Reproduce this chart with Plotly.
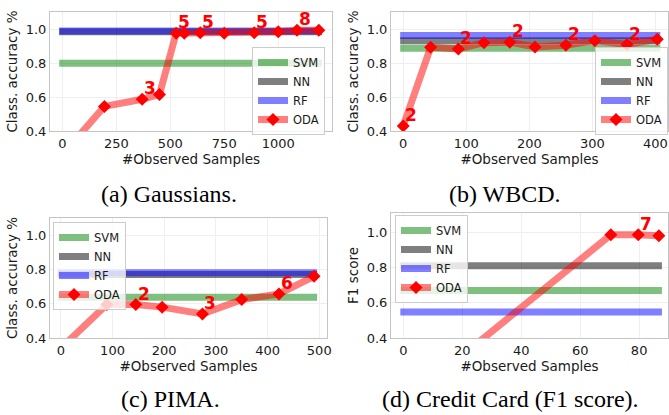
import plotly.graph_objects as go

# ---------------- data ----------------
# (a) Gaussians
a_x = [0, 195, 370, 450, 527, 565, 639, 750, 889, 1000, 1087, 1188]
a_oda = [0.26, 0.545, 0.587, 0.616, 0.976, 0.976, 0.98, 0.976, 0.98, 0.986, 0.995, 0.995]
a_lbl = ["", "", "3", "", "5", "", "5", "", "5", "", "8", ""]
a_svm, a_nn, a_rf = 0.80, 0.985, 0.99

# (b) WBCD
b_x = [0, 43.5, 87.5, 128, 169, 209, 258, 304, 355, 403]
b_oda = [0.43, 0.894, 0.884, 0.921, 0.924, 0.896, 0.906, 0.933, 0.91, 0.941]
b_lbl = ["2", "", "2", "", "2", "", "2", "", "2", ""]
b_svm, b_nn, b_rf = 0.888, 0.933, 0.963

# (c) PIMA
c_x = [0, 89, 145, 196, 274, 350, 422, 490]
c_oda = [0.34, 0.595, 0.595, 0.58, 0.54, 0.624, 0.657, 0.76]
c_lbl = ["", "", "2", "", "3", "", "6", ""]
c_svm, c_nn, c_rf = 0.638, 0.77, 0.78

# (d) Credit Card (F1)
d_x = [0, 70.4, 79.7, 86.7]
d_oda = [0.03, 0.985, 0.985, 0.98]
d_lbl = ["", "", "7", ""]
d_svm, d_nn, d_rf = 0.67, 0.81, 0.547

x_ticks_a = [0, 250, 500, 750, 1000]
x_ticks_b = [0, 100, 200, 300, 400]
x_ticks_c = [0, 100, 200, 300, 400, 500]
x_ticks_d = [0, 20, 40, 60, 80]
y_ticks = [0.4, 0.6, 0.8, 1.0]

captions = ["(a) Gaussians.", "(b) WBCD.", "(c) PIMA.", "(d) Credit Card (F1 score)."]
y_titles = ["Class. accuracy %", "Class. accuracy %", "Class. accuracy %", "F1 score"]
x_title = "#Observed Samples"

# ---------------- styling ----------------
W, H = 669, 415
SANS = "DejaVu Sans"
SERIF = "Liberation Serif"
GREEN = "rgba(0,128,0,0.5)"
GRAY = "rgba(0,0,0,0.5)"
BLUE = "rgba(0,0,255,0.5)"
PINK = "rgba(255,0,0,0.5)"
RED = "#ff0000"
LW = 7

def px(v, tot):
    return v / tot

panels = [
    dict(x=a_x, y=a_oda, lbl=a_lbl, svm=a_svm, nn=a_nn, rf=a_rf, ticks=x_ticks_a,
         xr=[-57, 1249], yr=[0.4, 1.102], box=(50, 332, 12, 131),
         leg=(252, 47), cap=(169, 194)),
    dict(x=b_x, y=b_oda, lbl=b_lbl, svm=b_svm, nn=b_nn, rf=b_rf, ticks=x_ticks_b,
         xr=[-19.4, 420], yr=[0.4, 1.102], box=(391, 668, 12, 131),
         leg=(595, 47), cap=(505, 194)),
    dict(x=c_x, y=c_oda, lbl=c_lbl, svm=c_svm, nn=c_nn, rf=c_rf, ticks=x_ticks_c,
         xr=[-21, 515], yr=[0.4, 1.10], box=(50, 327, 218, 338),
         leg=(53, 222), cap=(170, 399)),
    dict(x=d_x, y=d_oda, lbl=d_lbl, svm=d_svm, nn=d_nn, rf=d_rf, ticks=x_ticks_d,
         xr=[-4.2, 89.8], yr=[0.4, 1.109], box=(391, 668, 213, 338),
         leg=(395, 215), cap=(510, 399)),
]

fig = go.Figure()
layout = dict(width=W, height=H, margin=dict(l=0, r=0, t=0, b=0),
              paper_bgcolor="white", plot_bgcolor="white",
              font=dict(family=SANS, color="#1a1a1a", size=13),
              showlegend=True)
annotations = []

for i, p in enumerate(panels):
    k = "" if i == 0 else str(i + 1)
    xa, ya = "x" + k, "y" + k
    legname = "legend" + k
    xmin, xmax = min(p["x"]), max(p["x"])
    ext = 0.012 * (xmax - xmin)
    hx = [xmin - ext, xmax + ext]
    for name, val, col in [("SVM", p["svm"], GREEN), ("NN", p["nn"], GRAY), ("RF", p["rf"], BLUE)]:
        fig.add_trace(go.Scatter(x=hx, y=[val, val], mode="lines", name=name,
                                 line=dict(color=col, width=LW),
                                 xaxis=xa, yaxis=ya, legend=legname))
    fig.add_trace(go.Scatter(x=p["x"], y=p["y"], mode="lines+markers", name="ODA",
                             line=dict(color=PINK, width=LW),
                             marker=dict(symbol="diamond", size=10, color=RED),
                             xaxis=xa, yaxis=ya, legend=legname))
    for xv, yv, t in zip(p["x"], p["y"], p["lbl"]):
        if t:
            annotations.append(dict(x=xv, y=yv, xref=xa, yref=ya, text="<b>%s</b>" % t,
                                    showarrow=False, xanchor="left", yanchor="middle",
                                    xshift=0, yshift=11,
                                    font=dict(family=SANS, size=17, color=RED)))
    l, r, t_, b = p["box"]
    axis_common = dict(showline=True, mirror=True, linecolor="#c4c4c4", linewidth=1,
                       showgrid=True, gridcolor="#efefef", gridwidth=1, zeroline=False,
                       ticks="", automargin=False, ticklabeloverflow="allow",
                       tickfont=dict(family=SANS, size=13, color="#1a1a1a"))
    layout["xaxis" + k] = dict(axis_common, domain=[px(l, W), px(r, W)], range=p["xr"],
                               tickvals=p["ticks"], anchor=ya,
                               title=dict(text=x_title, standoff=2,
                                          font=dict(family=SANS, size=13.5, color="#1a1a1a")))
    layout["yaxis" + k] = dict(axis_common, domain=[1 - px(b, H), 1 - px(t_, H)], range=p["yr"],
                               tickvals=y_ticks, tickformat=".1f", anchor=xa,
                               title=dict(text=y_titles[i], standoff=4,
                                          font=dict(family=SANS, size=13.5, color="#1a1a1a")))
    lx, ly = p["leg"]
    layout[legname] = dict(x=px(lx, W), y=1 - px(ly, H), xref="paper", yref="paper",
                           xanchor="left", yanchor="top",
                           bgcolor="rgba(255,255,255,0.8)", bordercolor="#cccccc", borderwidth=1,
                           font=dict(family=SANS, size=11.5, color="#1a1a1a"))
    cx, cy = p["cap"]
    annotations.append(dict(x=px(cx, W), y=1 - px(cy, H), xref="paper", yref="paper",
                            text=captions[i], showarrow=False, xanchor="center", yanchor="middle",
                            font=dict(family=SERIF, size=24, color="black")))

layout["annotations"] = annotations
fig.update_layout(**layout)
fig.write_html("out.html", config={"displayModeBar": False},
               post_script="document.body.style.margin='0';document.body.style.overflow='hidden';")
